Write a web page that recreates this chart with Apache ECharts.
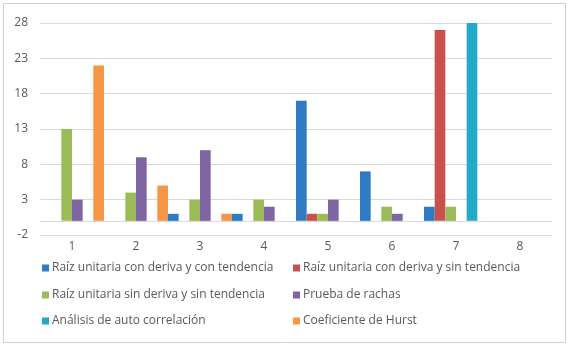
<!DOCTYPE html>
<html>
<head>
<meta charset="utf-8">
<script src="https://cdn.jsdelivr.net/npm/echarts@6/dist/echarts.min.js"></script>
<style>
  html, body { margin: 0; padding: 0; background: #fff; }
  #chart-container { width: 572px; height: 349px; }
</style>
</head>
<body>
<div id="chart-container"></div>
<script>
// categorías del eje X
const categorias = ['1', '2', '3', '4', '5', '6', '7', '8'];

// nombres de las series
const nombres = [
    'Raíz unitaria con deriva y con tendencia',
    'Raíz unitaria con deriva y sin tendencia',
    'Raíz unitaria sin deriva y sin tendencia',
    'Prueba de rachas',
    'Análisis de auto correlación',
    'Coeficiente de Hurst'
];

// valores por serie (null = sin barra)
const conDerivaConTend = [null, null, 1, 1, 17, 7, 2, null];
const conDerivaSinTend = [null, null, null, null, 1, null, 27, null];
const sinDerivaSinTend = [13, 4, 3, 3, 1, 2, 2, null];
const pruebaRachas = [3, 9, 10, 2, 3, 1, null, null];
const autoCorrelacion = [null, null, null, null, null, null, 28, null];
const coefHurst = [22, 5, 1, null, null, null, null, null];

const valores = [conDerivaConTend, conDerivaSinTend, sinDerivaSinTend, pruebaRachas, autoCorrelacion, coefHurst];
const colores = ['#2e7bc4', '#c9504d', '#9bbb59', '#7f64a2', '#22aac8', '#f79646'];

document.addEventListener('DOMContentLoaded', () => {
    const chart = echarts.init(document.getElementById('chart-container'));

    // posiciones de la leyenda (2 columnas x 3 filas)
    const leyendaPos = [
        { left: 42, top: 262 }, { left: 293, top: 262 },
        { left: 42, top: 289 }, { left: 293, top: 289 },
        { left: 42, top: 315 }, { left: 293, top: 315 }
    ];

    const option = {
        animation: false,
        textStyle: { fontFamily: 'Open Sans' },
        graphic: [{
            type: 'rect',
            shape: { x: 3.5, y: 3.5, width: 562, height: 339 },
            style: { fill: 'none', stroke: '#d0d0d0', lineWidth: 1 }
        }],
        legend: nombres.map((n, i) => ({
            data: [n],
            left: leyendaPos[i].left,
            top: leyendaPos[i].top,
            itemWidth: 7,
            itemHeight: 7,
            itemGap: 4,
            padding: 0,
            icon: 'rect',
            textStyle: { fontFamily: 'Open Sans', fontSize: 12, color: '#595959', padding: [0, 0, 0, -2] }
        })),
        grid: { left: 40, right: 20, top: 23, bottom: 114 },
        xAxis: {
            type: 'category',
            data: categorias,
            axisLine: { show: false },
            axisTick: { show: false },
            axisLabel: { fontSize: 12, color: '#595959', margin: 6 }
        },
        yAxis: {
            type: 'value',
            min: -2,
            max: 28,
            interval: 5,
            axisLine: { show: false },
            axisTick: { show: false },
            axisLabel: { fontSize: 12, color: '#595959', margin: 12 },
            splitLine: { lineStyle: { color: '#d9d9d9', width: 1 } }
        },
        series: nombres.map((n, i) => ({
            name: n,
            type: 'bar',
            data: valores[i],
            barGap: '0%',
            barCategoryGap: '0%',
            itemStyle: { color: colores[i] },
            markLine: i === 0 ? {
                silent: true,
                symbol: 'none',
                label: { show: false },
                lineStyle: { color: '#d9d9d9', type: 'solid', width: 1 },
                data: [{ yAxis: 0 }]
            } : undefined
        }))
    };

    chart.setOption(option);
});
</script>
</body>
</html>
